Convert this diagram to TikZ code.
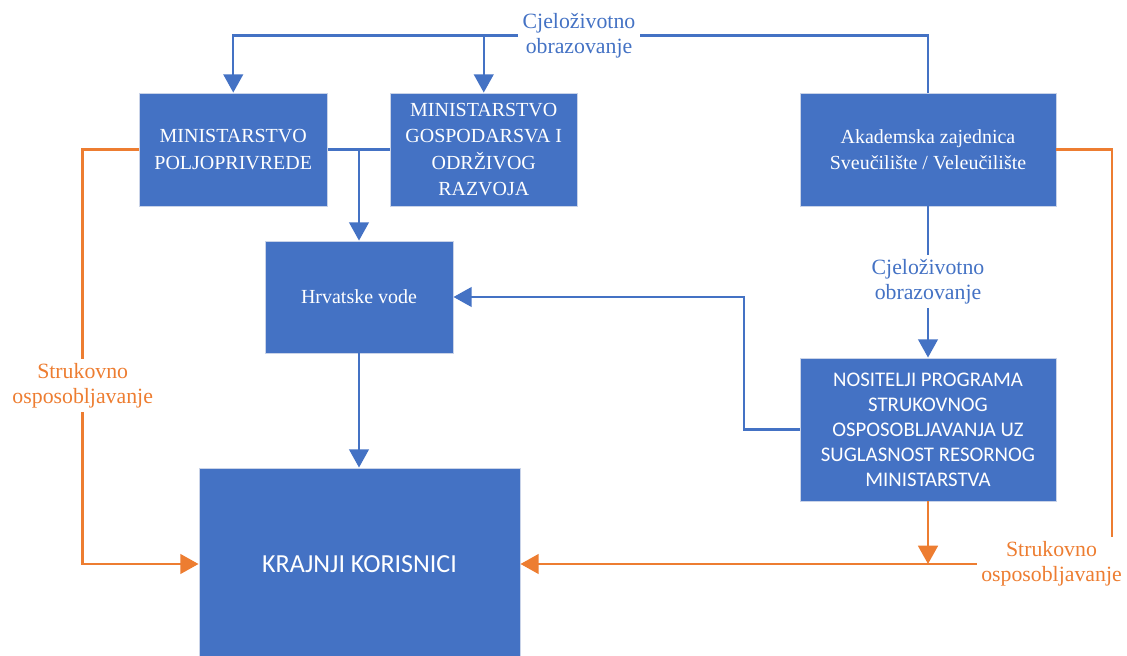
\documentclass[tikz,border=0pt]{standalone}
\usepackage{fontspec}
\setmainfont{Liberation Serif}
\newfontfamily\calibri{Carlito}
\usetikzlibrary{arrows.meta}
\definecolor{boxblue}{HTML}{4472C4}
\definecolor{boxedge}{HTML}{C9D3E8}
\definecolor{lineorange}{HTML}{ED7D31}
\tikzstyle{box} = [rectangle, fill=boxblue, draw=boxedge, line width=0.6pt, text=white, align=center, inner sep=2pt, font=\fontsize{14.2}{18.8}\selectfont]
\tikzstyle{sbox} = [box, font=\calibri\fontsize{14.8}{17.8}\selectfont]
\tikzstyle{blabel} = [text=boxblue, align=center, inner sep=3pt, font=\fontsize{15.5}{17.5}\selectfont]
\tikzstyle{olabel} = [text=lineorange, align=center, inner sep=3pt, font=\fontsize{15.5}{17.8}\selectfont]
\tikzstyle{bline} = [draw=boxblue, line width=1.6pt]
\tikzstyle{barrow} = [bline, -{Triangle[width=14pt,length=13pt]}]
\tikzstyle{oline} = [draw=lineorange, line width=1.8pt]
\tikzstyle{oarrow} = [oline, -{Triangle[width=14pt,length=13pt]}]

\begin{document}
\begin{tikzpicture}[x=0.025cm, y=-0.025cm]
        \useasboundingbox (0,0) rectangle (1127,656);
        % boxes
        \node (mp) [box, minimum width=4.71cm, minimum height=2.825cm] at (233.25,149.5) {MINISTARSTVO\\POLJOPRIVREDE};
        \node (mg) [box, minimum width=4.69cm, minimum height=2.825cm] at (483.75,149.5) {MINISTARSTVO\\GOSPODARSVA I\\ODRŽIVOG\\RAZVOJA};
        \node (aka) [box, minimum width=6.4cm, minimum height=2.825cm] at (928,149.5) {Akademska zajednica\\Sveučilište / Veleučilište};
        \node (hv) [box, minimum width=4.7cm, minimum height=2.8cm] at (359,297) {Hrvatske vode};
        \node (nos) [sbox, minimum width=6.4cm, minimum height=3.575cm] at (928,429.5) {NOSITELJI PROGRAMA\\STRUKOVNOG\\OSPOSOBLJAVANJA UZ\\SUGLASNOST RESORNOG\\MINISTARSTVA};
        \node (kor) [box, font=\calibri\fontsize{18.5}{22}\selectfont, minimum width=8.025cm, minimum height=4.8cm] at (359.5,564) {KRAJNJI KORISNICI};

        % labels on the connectors
        \node (cjtop) [blabel] at (579,35.5) {Cjeloživotno\\obrazovanje};
        \node (cjmid) [blabel] at (928,281.5) {Cjeloživotno\\obrazovanje};
        \node (soleft) [olabel] at (82.7,385.5) {Strukovno\\osposobljavanje};
        \node (soright) [olabel] at (1051.5,564) {Strukovno\\osposobljavanje};
        \coordinate (nh) at (744,0);
        \coordinate (rv) at (1112,0);

        % lifelong learning (blue)
        \draw [bline] (aka.north) |- (cjtop.east);
        \draw [barrow] (cjtop.west) -| (mp.north);
        \draw [barrow] (mg.north |- cjtop.west) -- (mg.north);
        \draw [bline] (mp.east) -- (mg.west);
        \draw [barrow] (hv.north |- mp.east) -- (hv.north);
        \draw [bline] (aka.south) -- (cjmid.north);
        \draw [barrow] (cjmid.south) -- (nos.north);
        \draw [barrow] (nos.west) -| (nh |- hv.east) -- (hv.east);
        \draw [barrow] (hv.south) -- (hv.south |- kor.north);

        % vocational training (orange)
        \draw [oline] (mp.west) -| (soleft.north);
        \draw [oarrow] (soleft.south) |- (kor.west);
        \draw [oline] (aka.east) -| (rv |- soright.north);
        \draw [oarrow] (soright.west) -- (kor.east);
        \draw [oarrow] (nos.south) -- (nos.south |- soright.west);
\end{tikzpicture}
\end{document}
